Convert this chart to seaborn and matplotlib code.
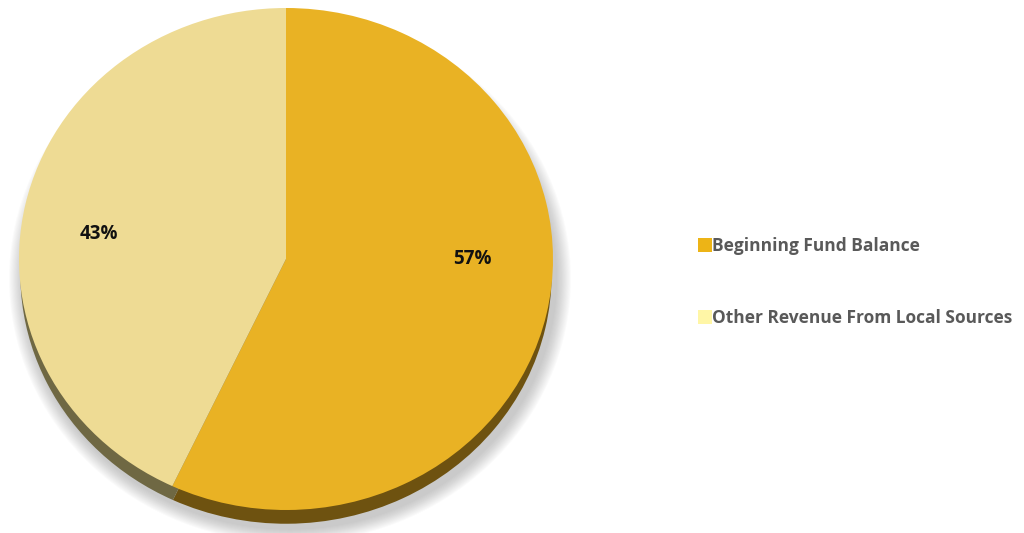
import numpy as np
import matplotlib
matplotlib.use("Agg")
import matplotlib.pyplot as plt
from matplotlib.patches import Patch, Ellipse
import seaborn as sns

categories = ["Beginning Fund Balance", "Other Revenue From Local Sources"]
shares = [57, 43]
top_colors = ["#E9B224", "#EEDB94"]
side_colors = ["#6E5210", "#6F6843"]
legend_colors = ["#EDB416", "#FFF6A6"]

sns.set_theme(style="white")
plt.rcParams["font.family"] = ["Open Sans", "DejaVu Sans"]

W, H = 1024, 533
fig = plt.figure(figsize=(W / 100, H / 100), dpi=100)
ax = fig.add_axes([0, 0, 1, 1])

# the pie is drawn as a circle and squashed vertically through the y limits
rx, ry = 267.0, 251.0
k = rx / ry
cx_px, cy_px = 286.0, 259.0
cx, cy = cx_px, (H - cy_px) * k
depth = 15.0 * k

# soft drop shadow under the disc
for i in range(14):
    grow = 1 + 0.004 * i
    ax.add_patch(Ellipse((cx + 4, cy - depth - 5), 2 * rx * grow, 2 * rx * grow,
                         facecolor="#7a7a7a", edgecolor="none", alpha=0.03, zorder=0))

# side of the disc: the same wedges pushed down
ax.pie(shares, colors=side_colors, startangle=90, counterclock=False,
       center=(cx, cy - depth), radius=rx * 0.995, frame=True,
       wedgeprops=dict(linewidth=0, zorder=1))
# top surface
wedges, _ = ax.pie(shares, colors=top_colors, startangle=90, counterclock=False,
                   center=(cx, cy), radius=rx, frame=True,
                   wedgeprops=dict(linewidth=0, zorder=2))

ax.set_aspect("auto")
ax.set_xlim(0, W)
ax.set_ylim(0, H * k)
ax.axis("off")

label_pos = [(472, 259), (99, 234)]
for v, (x, y) in zip(shares, label_pos):
    ax.text(x, (H - y) * k, f"{v}%", ha="center", va="center",
            fontsize=13.5, fontweight="bold", color="#111111", zorder=5)

handles = [Patch(facecolor=c, edgecolor="none") for c in legend_colors]
leg = fig.legend(handles, categories, loc="center left",
                 bbox_to_anchor=(689 / W, 1 - 282 / H), frameon=False,
                 handlelength=0.8, handleheight=0.9, handletextpad=0.05,
                 labelspacing=3.1, borderpad=0,
                 prop=dict(family=["Open Sans", "DejaVu Sans"], weight="bold", size=12.5))
for t in leg.get_texts():
    t.set_color("#595959")

fig.savefig("out.png", dpi=100, facecolor="white")
